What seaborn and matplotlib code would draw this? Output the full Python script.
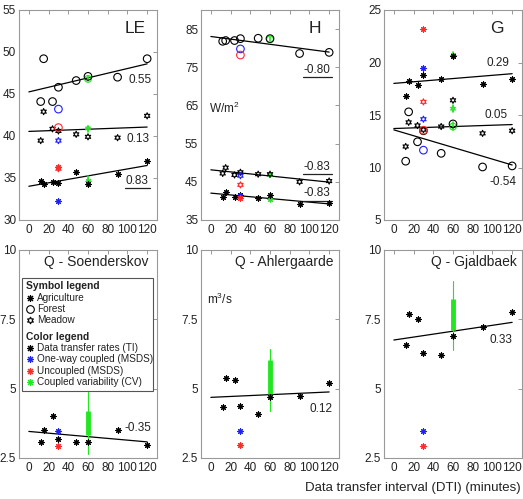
import numpy as np
import matplotlib
matplotlib.use("Agg")
import matplotlib.pyplot as plt
import seaborn as sns
from matplotlib.patches import Rectangle

# --- data ---
dti = [12, 15, 24, 30, 48, 60, 90, 120]   # data transfer intervals (minutes)
x_msds = 30                               # MSDS runs are shown at 30 min
x_cv = 60                                 # coupled variability shown at 60 min

# LE (W/m2): agriculture, forest, meadow
le_agri = [34.7, 34.3, 34.5, 34.35, 35.7, 34.3, 35.5, 37.0]
le_forest = [44.1, 49.2, 44.1, 45.8, 46.6, 47.1, 47.0, 49.2]
le_meadow = [39.45, 42.9, 40.85, 40.6, 40.2, 39.9, 39.8, 42.4]
le_oneway = [32.3, 43.2, 39.45]
le_uncoupled = [36.3, 41.0, 36.1]
le_cv = [34.7, 46.8, 40.9]
le_cv_lo = [34.3, 46.5, 40.5]
le_cv_hi = [35.2, 47.2, 41.2]
le_r = ["0.83", "0.55", "0.13"]

# H (W/m2)
h_agri = [41.1, 42.4, 41.1, 41.5, 40.7, 41.5, 39.2, 39.4]
h_forest = [81.8, 82.0, 82.0, 82.5, 82.6, 82.5, 78.6, 78.9]
h_meadow = [47.2, 48.7, 46.8, 47.5, 47.0, 47.0, 45.0, 45.2]
h_oneway = [41.4, 79.8, 46.6]
h_uncoupled = [40.8, 78.2, 44.2]
h_cv = [40.6, 82.3, 46.8]
h_cv_lo = [40.2, 81.8, 46.3]
h_cv_hi = [41.2, 82.8, 47.3]
h_r = ["-0.83", "-0.80", "-0.83"]

# G (W/m2)
g_agri = [16.8, 18.25, 17.85, 18.8, 18.45, 20.6, 17.95, 18.45]
g_forest = [10.6, 15.3, 12.45, 13.5, 11.35, 14.15, 10.05, 10.15]
g_meadow = [12.0, 14.3, 14.0, 13.6, 13.9, 16.4, 13.25, 13.5]
g_oneway = [19.5, 11.65, 14.6]
g_uncoupled = [23.2, 13.55, 16.25]
g_cv = [20.7, 13.9, 15.6]
g_cv_lo = [20.4, 13.6, 15.3]
g_cv_hi = [21.0, 14.3, 16.0]
g_r = ["0.29", "-0.54", "0.05"]

# Q (m3/s) for three catchments
q_names = ["Q - Soenderskov", "Q - Ahlergaarde", "Q - Gjaldbaek"]
q_ti = [[3.08, 3.5, 4.03, 3.17, 3.08, 3.09, 3.5, 2.96],
        [4.34, 5.37, 5.32, 4.39, 4.10, 4.71, 4.72, 5.19],
        [6.59, 7.68, 7.51, 6.29, 6.21, 6.89, 7.23, 7.75]]
q_oneway = [3.48, 3.49, 3.48]
q_uncoupled = [2.93, 2.96, 2.94]
q_cv_box = [[3.32, 4.19], [4.79, 6.02], [7.11, 8.25]]
q_cv_whisk = [[2.65, 4.88], [4.19, 6.44], [6.41, 8.89]]
q_r = ["-0.35", "0.12", "0.33"]

# --- style ---
sns.set_style("white")
plt.rcParams['font.family'] = ['Liberation Sans', 'DejaVu Sans']
plt.rcParams['mathtext.default'] = 'regular'

AST = (8, 2, 0)     # MATLAB-like asterisk
HEX = (6, 1, 0)     # hexagram
land_markers = [AST, 'o', HEX]
land_sizes = [16, 30, 20]
BLUE, RED, GREEN = '#1f1fff', '#ff2a2a', '#22e622'
TXT = '#222222'


def points(ax, x, y, marker, size, color, z):
    if marker == AST:
        sns.scatterplot(x=x, y=y, ax=ax, marker=marker, s=size, color=color,
                        linewidth=0.8, zorder=z)
    else:
        sns.scatterplot(x=x, y=y, ax=ax, marker=marker, s=size,
                        facecolor='none', edgecolor=color, linewidth=0.8, zorder=z)


def fit_line(ax, y):
    slope, icpt = np.polyfit(dti, y, 1)
    xs = np.array([0, 120])
    sns.lineplot(x=xs, y=icpt + slope * xs, ax=ax, color='black', lw=0.9, zorder=2)


def style_axes(ax, ylim, yticks, yticklabels=None):
    ax.set_xlim(-10, 130)
    ax.set_ylim(*ylim)
    ax.set_xticks([0, 20, 40, 60, 80, 100, 120])
    ax.set_yticks(yticks)
    if yticklabels is not None:
        ax.set_yticklabels(yticklabels)
    ax.tick_params(direction='in', length=3, width=0.6, color='#888888',
                   labelcolor=TXT, labelsize=8.5, top=True, right=True, pad=3)
    ax.tick_params(axis='y', pad=2)
    for s in ax.spines.values():
        s.set_color('#999999')
        s.set_linewidth(0.8)
    ax.set_xlabel('')
    ax.set_ylabel('')


fig = plt.figure(figsize=(5.23, 4.99), dpi=100)
W, H = 523.0, 499.0
lefts = [19, 201, 384]
top_row = [fig.add_axes([l / W, 1 - 220 / H, 138 / W, 210 / H]) for l in lefts]
bot_row = [fig.add_axes([l / W, 1 - 458 / H, 138 / W, 208 / H]) for l in lefts]

underlines = []

# --- top row: LE, H, G ---
top_sets = [
    ("LE", [le_agri, le_forest, le_meadow], le_oneway, le_uncoupled, le_cv, le_cv_lo, le_cv_hi,
     (30, 55), [30, 35, 40, 45, 50, 55], 0.915),
    ("H", [h_agri, h_forest, h_meadow], h_oneway, h_uncoupled, h_cv, h_cv_lo, h_cv_hi,
     (35, 90), [35, 45, 55, 65, 75, 85], 0.87),
    ("G", [g_agri, g_forest, g_meadow], g_oneway, g_uncoupled, g_cv, g_cv_lo, g_cv_hi,
     (5, 25), [5, 10, 15, 20, 25], 0.865),
]
# correlation label positions (x, y in data units) and underline flags
r_pos = [
    [(110, 34.7, True), (112.5, 46.7, False), (111, 39.65, False)],
    [(108, 42.0, True), (108, 74.3, True), (108, 49.0, True)],
    [(105.5, 20.0, False), (110.5, 8.65, False), (104, 15.0, False)],
]
r_text = [le_r, h_r, g_r]

for i, (ax, spec) in enumerate(zip(top_row, top_sets)):
    name, groups, oneway, uncoup, cv, cv_lo, cv_hi, ylim, yticks, tx = spec
    for k in range(3):
        fit_line(ax, groups[k])
        ax.plot([x_cv, x_cv], [cv_lo[k], cv_hi[k]], color=GREEN, lw=1.2, zorder=3)
        points(ax, [x_cv], [cv[k]], land_markers[k], land_sizes[k] * 0.8, GREEN, 3)
        points(ax, dti, groups[k], land_markers[k], land_sizes[k], 'black', 4)
        points(ax, [x_msds], [oneway[k]], land_markers[k], land_sizes[k], BLUE, 5)
        points(ax, [x_msds], [uncoup[k]], land_markers[k], land_sizes[k], RED, 5)
        px, py, ul = r_pos[i][k]
        t = ax.text(px, py, r_text[i][k], ha='center', va='center', fontsize=8.5, color=TXT)
        if ul:
            underlines.append((ax, t))
    ax.text(tx, 0.91, name, transform=ax.transAxes, ha='right', va='center',
            fontsize=12.5, color=TXT)
    style_axes(ax, ylim, yticks)

top_row[1].text(-2, 64.2, "W/m$^2$", ha='left', va='center', fontsize=8.5, color=TXT)

# --- bottom row: Q ---
q_title_x = [0.935, 0.957, 0.964]
q_r_pos = [(111, 3.58), (111.3, 4.28), (109, 6.75)]
for j, ax in enumerate(bot_row):
    fit_line(ax, q_ti[j])
    ax.plot([x_cv, x_cv], q_cv_whisk[j], color=GREEN, lw=0.8, zorder=3)
    ax.plot([x_cv, x_cv], q_cv_box[j], color=GREEN, lw=3.5, zorder=3, solid_capstyle='butt')
    points(ax, dti, q_ti[j], AST, land_sizes[0], 'black', 4)
    points(ax, [x_msds], [q_oneway[j]], AST, land_sizes[0], BLUE, 5)
    points(ax, [x_msds], [q_uncoupled[j]], AST, land_sizes[0], RED, 5)
    ax.text(*q_r_pos[j], q_r[j], ha='center', va='center', fontsize=8.5, color=TXT)
    ax.text(q_title_x[j], 0.94, q_names[j], transform=ax.transAxes, ha='right',
            va='center', fontsize=10, color=TXT)
    style_axes(ax, (2.5, 10), [2.5, 5, 7.5, 10], ['2.5', '5', '7.5', '10'])

bot_row[1].text(-4, 8.23, "m$^3$/s", ha='left', va='center', fontsize=8.5, color=TXT)

# --- legend box in the Soenderskov panel ---
lg = bot_row[0]
lg.add_patch(Rectangle((0.022, 0.322), 0.95, 0.545, transform=lg.transAxes,
                       facecolor='white', edgecolor='#555555', lw=0.8, zorder=6))
legend_rows = [
    ("Symbol legend", None, None, True),
    ("Agriculture", AST, 'black', False),
    ("Forest", 'o', 'black', False),
    ("Meadow", HEX, 'black', False),
    ("Color legend", None, None, True),
    ("Data transfer rates (TI)", AST, 'black', False),
    ("One-way coupled (MSDS)", AST, BLUE, False),
    ("Uncoupled (MSDS)", AST, RED, False),
    ("Coupled variability (CV)", AST, GREEN, False),
]
legend_y = [0.827, 0.769, 0.716, 0.663, 0.582, 0.529, 0.476, 0.418, 0.365]
for (label, mk, col, header), yy in zip(legend_rows, legend_y):
    if header:
        lg.text(0.048, yy, label, transform=lg.transAxes, ha='left', va='center',
                fontsize=7.4, fontweight='bold', color=TXT, zorder=7)
    else:
        ms = 5.5 if mk == 'o' else 5
        lg.plot([0.08], [yy], transform=lg.transAxes, marker=mk, ms=ms, mew=0.8,
                color=col, mfc='none', ls='none', zorder=7, clip_on=False)
        lg.text(0.13, yy, label, transform=lg.transAxes, ha='left', va='center',
                fontsize=7.2, color=TXT, zorder=7)

fig.text(0.79, 0.022, "Data transfer interval (DTI) (minutes)", ha='center',
         va='center', fontsize=9.5, color=TXT)

# underline the significant correlation values
fig.canvas.draw()
renderer = fig.canvas.get_renderer()
for ax, t in underlines:
    bb = t.get_window_extent(renderer)
    p = ax.transAxes.inverted().transform([[bb.x0 - 1, bb.y0 - 1.5], [bb.x1 + 1, bb.y0 - 1.5]])
    ax.plot(p[:, 0], p[:, 1], transform=ax.transAxes, color=TXT, lw=0.9, clip_on=False)

fig.savefig("out.png", dpi=100)
